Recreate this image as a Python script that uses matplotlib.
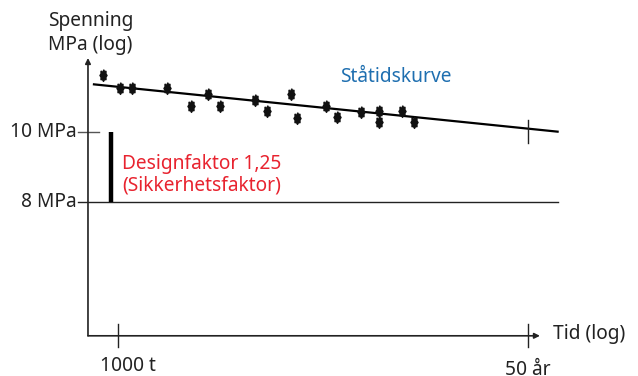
import matplotlib.pyplot as plt
import numpy as np

plt.rcParams['font.family'] = ['Noto Sans', 'DejaVu Sans']

# Måledata: tid (timer) og spenning (MPa)
tid_punkter = [797, 1035, 1225, 2080, 2950, 3820, 4540, 7630, 9160,
               12970, 14170, 21790, 25890, 36790, 48050, 48050, 67570, 80770]
spenning_punkter = [12.0, 11.5, 11.5, 11.5, 10.88, 11.3, 10.88, 11.07, 10.69,
                    11.3, 10.47, 10.88, 10.5, 10.67, 10.69, 10.31, 10.7, 10.31]

# Ståtidskurve (endepunkter)
kurve_tid = [700, 680000]
kurve_spenning = [11.64, 10.01]

# Nivåer og tidspunkter
designnivaa = [10, 8]
nivaa_etiketter = ['10 MPa', '8 MPa']
tid_ticks = [1000, 438000]
tid_etiketter = ['1000 t', '50 år']


# hjelpere for plassering av tekst (logaritmisk skala)
def lx(p):
    return 10**p


fig = plt.figure(figsize=(6.38, 3.76), dpi=100)
ax = fig.add_axes([0, 0, 1, 1])
ax.set_xscale('log')
ax.set_yscale('log')
ax.set_xlim(lx(2.2397), lx(6.3505))
ax.set_ylim(lx(0.662), lx(1.1828))
ax.axis('off')

fs = 13.8
tc = '#222222'

# akser med piler
x0, y0 = 640.6, 5.22
ax.annotate('', xy=(x0, 12.66), xytext=(x0, y0),
            arrowprops=dict(arrowstyle='-|>', lw=1.2, color=tc,
                            mutation_scale=8, shrinkA=0, shrinkB=0))
ax.annotate('', xy=(523000, y0), xytext=(x0, y0),
            arrowprops=dict(arrowstyle='-|>', lw=1.2, color=tc,
                            mutation_scale=8, shrinkA=0, shrinkB=0))

# tidsmarkeringer
for t in tid_ticks:
    ax.plot([t, t], [lx(0.734), lx(0.7022)], color=tc, lw=1.0)
ax.text(tid_ticks[0] * 1.16, lx(0.676), tid_etiketter[0],
        fontsize=fs, ha='center', va='center', color=tc)
ax.text(tid_ticks[1], lx(0.6704), tid_etiketter[1],
        fontsize=fs, ha='center', va='center', color=tc)
ax.text(lx(5.803), y0 * 1.005, 'Tid (log)', fontsize=fs, ha='left',
        va='center', color=tc)

# spenningsnivåer
ax.plot([lx(2.74), lx(2.88)], [designnivaa[0]] * 2, color='#555555', lw=1.0)
ax.plot([lx(2.74), 680000], [designnivaa[1]] * 2, color=tc, lw=1.0)
for s, lab in zip(designnivaa, nivaa_etiketter):
    ax.text(lx(2.733), s, lab, fontsize=fs, ha='right', va='center', color=tc)

# designfaktor-stolpe
ax.plot([lx(2.9549)] * 2, designnivaa, color='black', lw=3.2,
        solid_capstyle='butt')
ax.text(lx(3.026), 8.72, 'Designfaktor 1,25\n(Sikkerhetsfaktor)', fontsize=fs,
        ha='left', va='center', color='#e8232f', linespacing=1.12)

# ståtidskurve
ax.plot(kurve_tid, kurve_spenning, color='black', lw=1.6)
ax.plot([tid_ticks[1]] * 2, [lx(1.0166), lx(0.9848)], color=tc, lw=1.0)
ax.text(lx(4.43), lx(1.076), 'Ståtidskurve', fontsize=fs,
        ha='left', va='center', color='#1f6fb0')

# stjerneformede punkter
n = 16
ang = np.linspace(0, 2 * np.pi, n, endpoint=False)
r = np.where(np.arange(n) % 2 == 0, 1.0, 0.75)
stjerne = np.column_stack([0.6 * r * np.sin(ang), r * np.cos(ang)])
ax.plot(tid_punkter, spenning_punkter, linestyle='none', marker=stjerne,
        markersize=8.5, color='#111111')

# y-akse tittel
ax.text(lx(2.549), lx(1.1537), 'Spenning', fontsize=fs,
        ha='left', va='center', color=tc)
ax.text(lx(2.549), lx(1.1205), 'MPa (log)', fontsize=fs,
        ha='left', va='center', color=tc)

fig.savefig('out.png', dpi=100)
